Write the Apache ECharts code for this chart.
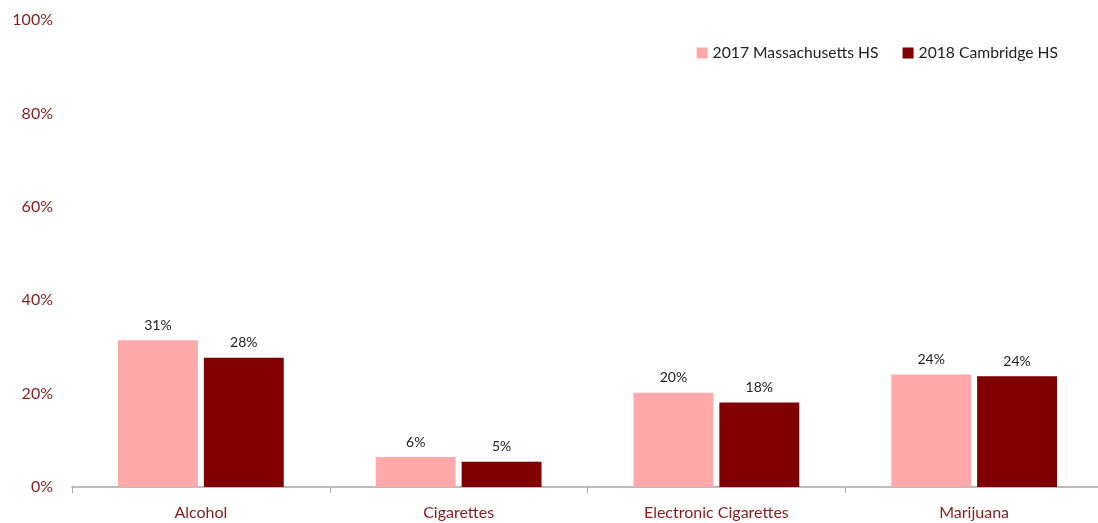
<!DOCTYPE html>
<html>
<head>
<meta charset="utf-8">
<script src="https://cdn.jsdelivr.net/npm/echarts@6/dist/echarts.min.js"></script>
<style>
  html, body { margin: 0; padding: 0; background: #fff; }
  #chart { width: 1098px; height: 523px; }
</style>
</head>
<body>
<div id="chart"></div>
<script>
// 資料
const categories = ['Alcohol', 'Cigarettes', 'Electronic Cigarettes', 'Marijuana'];
const massachusetts2017 = [31.4, 6.4, 20.2, 24.1];
const cambridge2018 = [27.7, 5.4, 18.1, 23.7];
const seriesNames = ['2017 Massachusetts HS', '2018 Cambridge HS'];

const FONT = 'Lato, "Open Sans", sans-serif';
const RED = '#8B1A1A';

const chart = echarts.init(document.getElementById('chart'));

const labelOpt = {
  show: true,
  position: 'top',
  distance: 8,
  color: '#222',
  fontSize: 14,
  fontFamily: FONT,
  formatter: (p) => Math.round(p.value) + '%',
};

chart.setOption({
  animation: false,
  grid: { left: 72, width: 1031, top: 20, bottom: 36, outerBoundsMode: 'none' },
  legend: {
    top: 40,
    right: 35,
    itemWidth: 11,
    itemHeight: 11,
    itemGap: 24,
    icon: 'rect',
    textStyle: { fontSize: 15.7, color: '#222', fontFamily: FONT },
    data: seriesNames,
  },
  xAxis: {
    type: 'category',
    data: categories,
    axisLine: { lineStyle: { color: '#a6a6a6', width: 1.5 } },
    axisTick: { show: true, length: 6, lineStyle: { color: '#a6a6a6' } },
    axisLabel: { color: RED, fontSize: 16, fontFamily: FONT, margin: 18 },
  },
  yAxis: {
    type: 'value',
    min: 0,
    max: 100,
    interval: 20,
    axisLine: { show: false },
    axisTick: { show: false },
    splitLine: { show: false },
    axisLabel: { color: RED, fontSize: 16, fontFamily: FONT, margin: 19, formatter: '{value}%' },
  },
  series: [
    {
      name: seriesNames[0],
      type: 'bar',
      data: massachusetts2017,
      barWidth: '31%',
      barGap: '7.5%',
      itemStyle: { color: '#FFA9AB' },
      label: labelOpt,
    },
    {
      name: seriesNames[1],
      type: 'bar',
      data: cambridge2018,
      barWidth: '31%',
      itemStyle: { color: '#800000' },
      label: labelOpt,
    },
  ],
});
</script>
</body>
</html>
